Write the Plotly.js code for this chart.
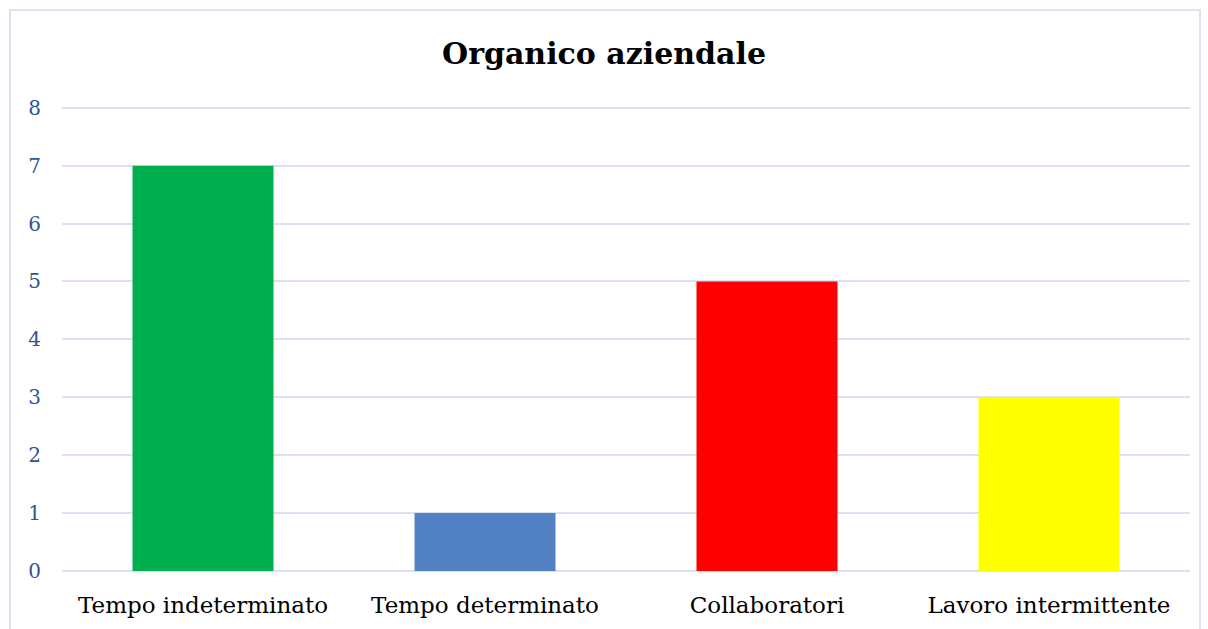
<!DOCTYPE html>
<html><head><meta charset="utf-8">
<script src="https://cdn.plot.ly/plotly-3.0.1.min.js"></script>
<style>body{margin:0;background:#fff}#wrap{position:relative;width:1208px;height:629px}#frame{position:absolute;left:9px;top:9px;width:1188px;height:640px;border:2px solid #dae3f3;pointer-events:none}</style>
</head><body>
<div id="wrap"><div id="chart" style="width:1208px;height:629px"></div><div id="frame"></div></div>
<script>
const categories = ["Tempo indeterminato", "Tempo determinato", "Collaboratori", "Lavoro intermittente"];
const values = [7, 1, 5, 3];
const colors = ["#00B050", "#5282C4", "#FF0000", "#FFFF00"];
const yTicks = [0, 1, 2, 3, 4, 5, 6, 7, 8];

Plotly.newPlot('chart', [{
  type: 'bar', x: categories, y: values,
  marker: {color: colors, line: {width: 0}},
  width: 0.5, hoverinfo: 'x+y'
}], {
  width: 1208, height: 629,
  margin: {l: 62, r: 18, t: 102, b: 58},
  paper_bgcolor: '#fff', plot_bgcolor: '#fff',
  title: {text: '<b>Organico aziendale</b>', x: 0.5, xanchor: 'center', y: 0.915, yanchor: 'middle',
    font: {family: 'DejaVu Serif, serif', size: 30, color: '#000'}},
  xaxis: {tickfont: {family: 'DejaVu Serif, serif', size: 23, color: '#000'},
    showgrid: false, zeroline: false, showline: false, ticks: '', ticklabelstandoff: 18},
  yaxis: {range: [0, 8.1], tickvals: yTicks, autorange: false,
    tickfont: {family: 'DejaVu Serif, serif', size: 20, color: '#2F5597'},
    showgrid: true, gridcolor: '#D9E2F3', gridwidth: 2, zeroline: true, zerolinecolor: '#D9E2F3', zerolinewidth: 2,
    showline: false, ticks: '', ticklabelstandoff: 20},
  showlegend: false
}, {displayModeBar: false});
</script>
</body></html>
